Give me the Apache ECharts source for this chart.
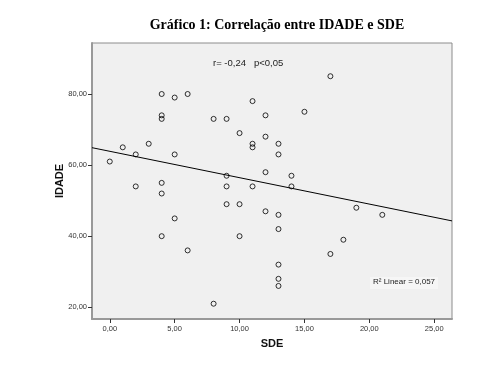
<!DOCTYPE html>
<html>
<head>
<meta charset="utf-8">
<script src="https://cdn.jsdelivr.net/npm/echarts@6/dist/echarts.min.js"></script>
<style>html,body{margin:0;padding:0;background:#fff}#c{width:500px;height:375px}</style>
</head>
<body>
<div id="c"></div>
<script>
// Observations (SDE, IDADE)
var sdeValues = [0,1,2,2,3,4,4,4,4,4,4,5,5,5,6,6,8,8,9,9,9,9,10,10,10,11,11,11,11,12,12,12,12,13,13,13,13,13,13,13,14,14,15,17,17,18,19,21];
var idadeValues = [61,65,63,54,66,80,74,73,55,52,40,79,63,45,80,36,73,21,73,57,54,49,69,49,40,78,66,65,54,74,68,58,47,66,63,46,42,32,28,26,57,54,75,85,35,39,48,46];
// Fit line (ends at plot edges)
var fitX = [-1.37, 26.37];
var fitY = [64.9, 44.3];
var xTicks = [0,5,10,15,20,25];
var yTicks = [20,40,60,80];
var titleText = 'Gráfico 1: Correlação entre IDADE e SDE';
var statText = 'r= -0,24   p<0,05';
var r2Text = 'R² Linear = 0,057';

var pts = sdeValues.map(function(x,i){return [x, idadeValues[i]];});
var fit = fitX.map(function(x,i){return [x, fitY[i]];});
function fmt(v){return v.toFixed(2).replace('.',',');}

var chart = echarts.init(document.getElementById('c'), null, {renderer:'canvas'});
chart.setOption({
  animation:false,
  backgroundColor:'#fff',
  grid:{left:92,top:43,width:360,height:276,show:true,backgroundColor:'#f0f0f0',borderColor:'#8c8c8c',borderWidth:1},
  xAxis:{type:'value',min:-1.37,max:26.37,
    name:'SDE',nameLocation:'middle',nameGap:19,nameMoveOverlap:false,
    nameTextStyle:{fontFamily:'Liberation Sans',fontWeight:'bold',fontSize:11,color:'#111'},
    axisLine:{show:true,onZero:false,lineStyle:{color:'#999',width:2}},
    axisTick:{show:true,inside:false,length:4,customValues:xTicks,lineStyle:{color:'#333'}},
    axisLabel:{customValues:xTicks,formatter:fmt,fontFamily:'Liberation Sans',fontSize:7.5,color:'#333',margin:6},
    splitLine:{show:false}},
  yAxis:{type:'value',min:16.7,max:94.35,
    name:'IDADE',nameLocation:'middle',nameGap:27,nameRotate:90,nameMoveOverlap:false,
    nameTextStyle:{fontFamily:'Liberation Sans',fontWeight:'bold',fontSize:11,color:'#111'},
    axisLine:{show:true,onZero:false,lineStyle:{color:'#999',width:2}},
    axisTick:{show:true,inside:false,length:4,customValues:yTicks,lineStyle:{color:'#333'}},
    axisLabel:{customValues:yTicks,formatter:fmt,fontFamily:'Liberation Sans',fontSize:7.5,color:'#333',margin:5},
    splitLine:{show:false}},
  title:{text:titleText,left:272,textAlign:'center',top:13,
    textStyle:{fontFamily:'Liberation Serif',fontWeight:'bold',fontSize:14,color:'#000'}},
  graphic:[
    {type:'text',left:213,top:58,style:{text:statText,fontFamily:'Liberation Sans',fontSize:9.5,fill:'#222'}},
    {type:'rect',shape:{x:370,y:277,width:68,height:12},style:{fill:'#f6f6f6'},z:5},
    {type:'text',left:373,top:278,z:6,style:{text:r2Text,fontFamily:'Liberation Sans',fontSize:8,fill:'#222'}}
  ],
  series:[
    {type:'line',data:fit,showSymbol:false,symbol:'none',lineStyle:{color:'#000',width:1},clip:true,z:2},
    {type:'scatter',data:pts,symbol:'circle',symbolSize:5,
      itemStyle:{color:'rgba(0,0,0,0)',borderColor:'#000',borderWidth:1},z:3}
  ]
});
</script>
</body>
</html>
